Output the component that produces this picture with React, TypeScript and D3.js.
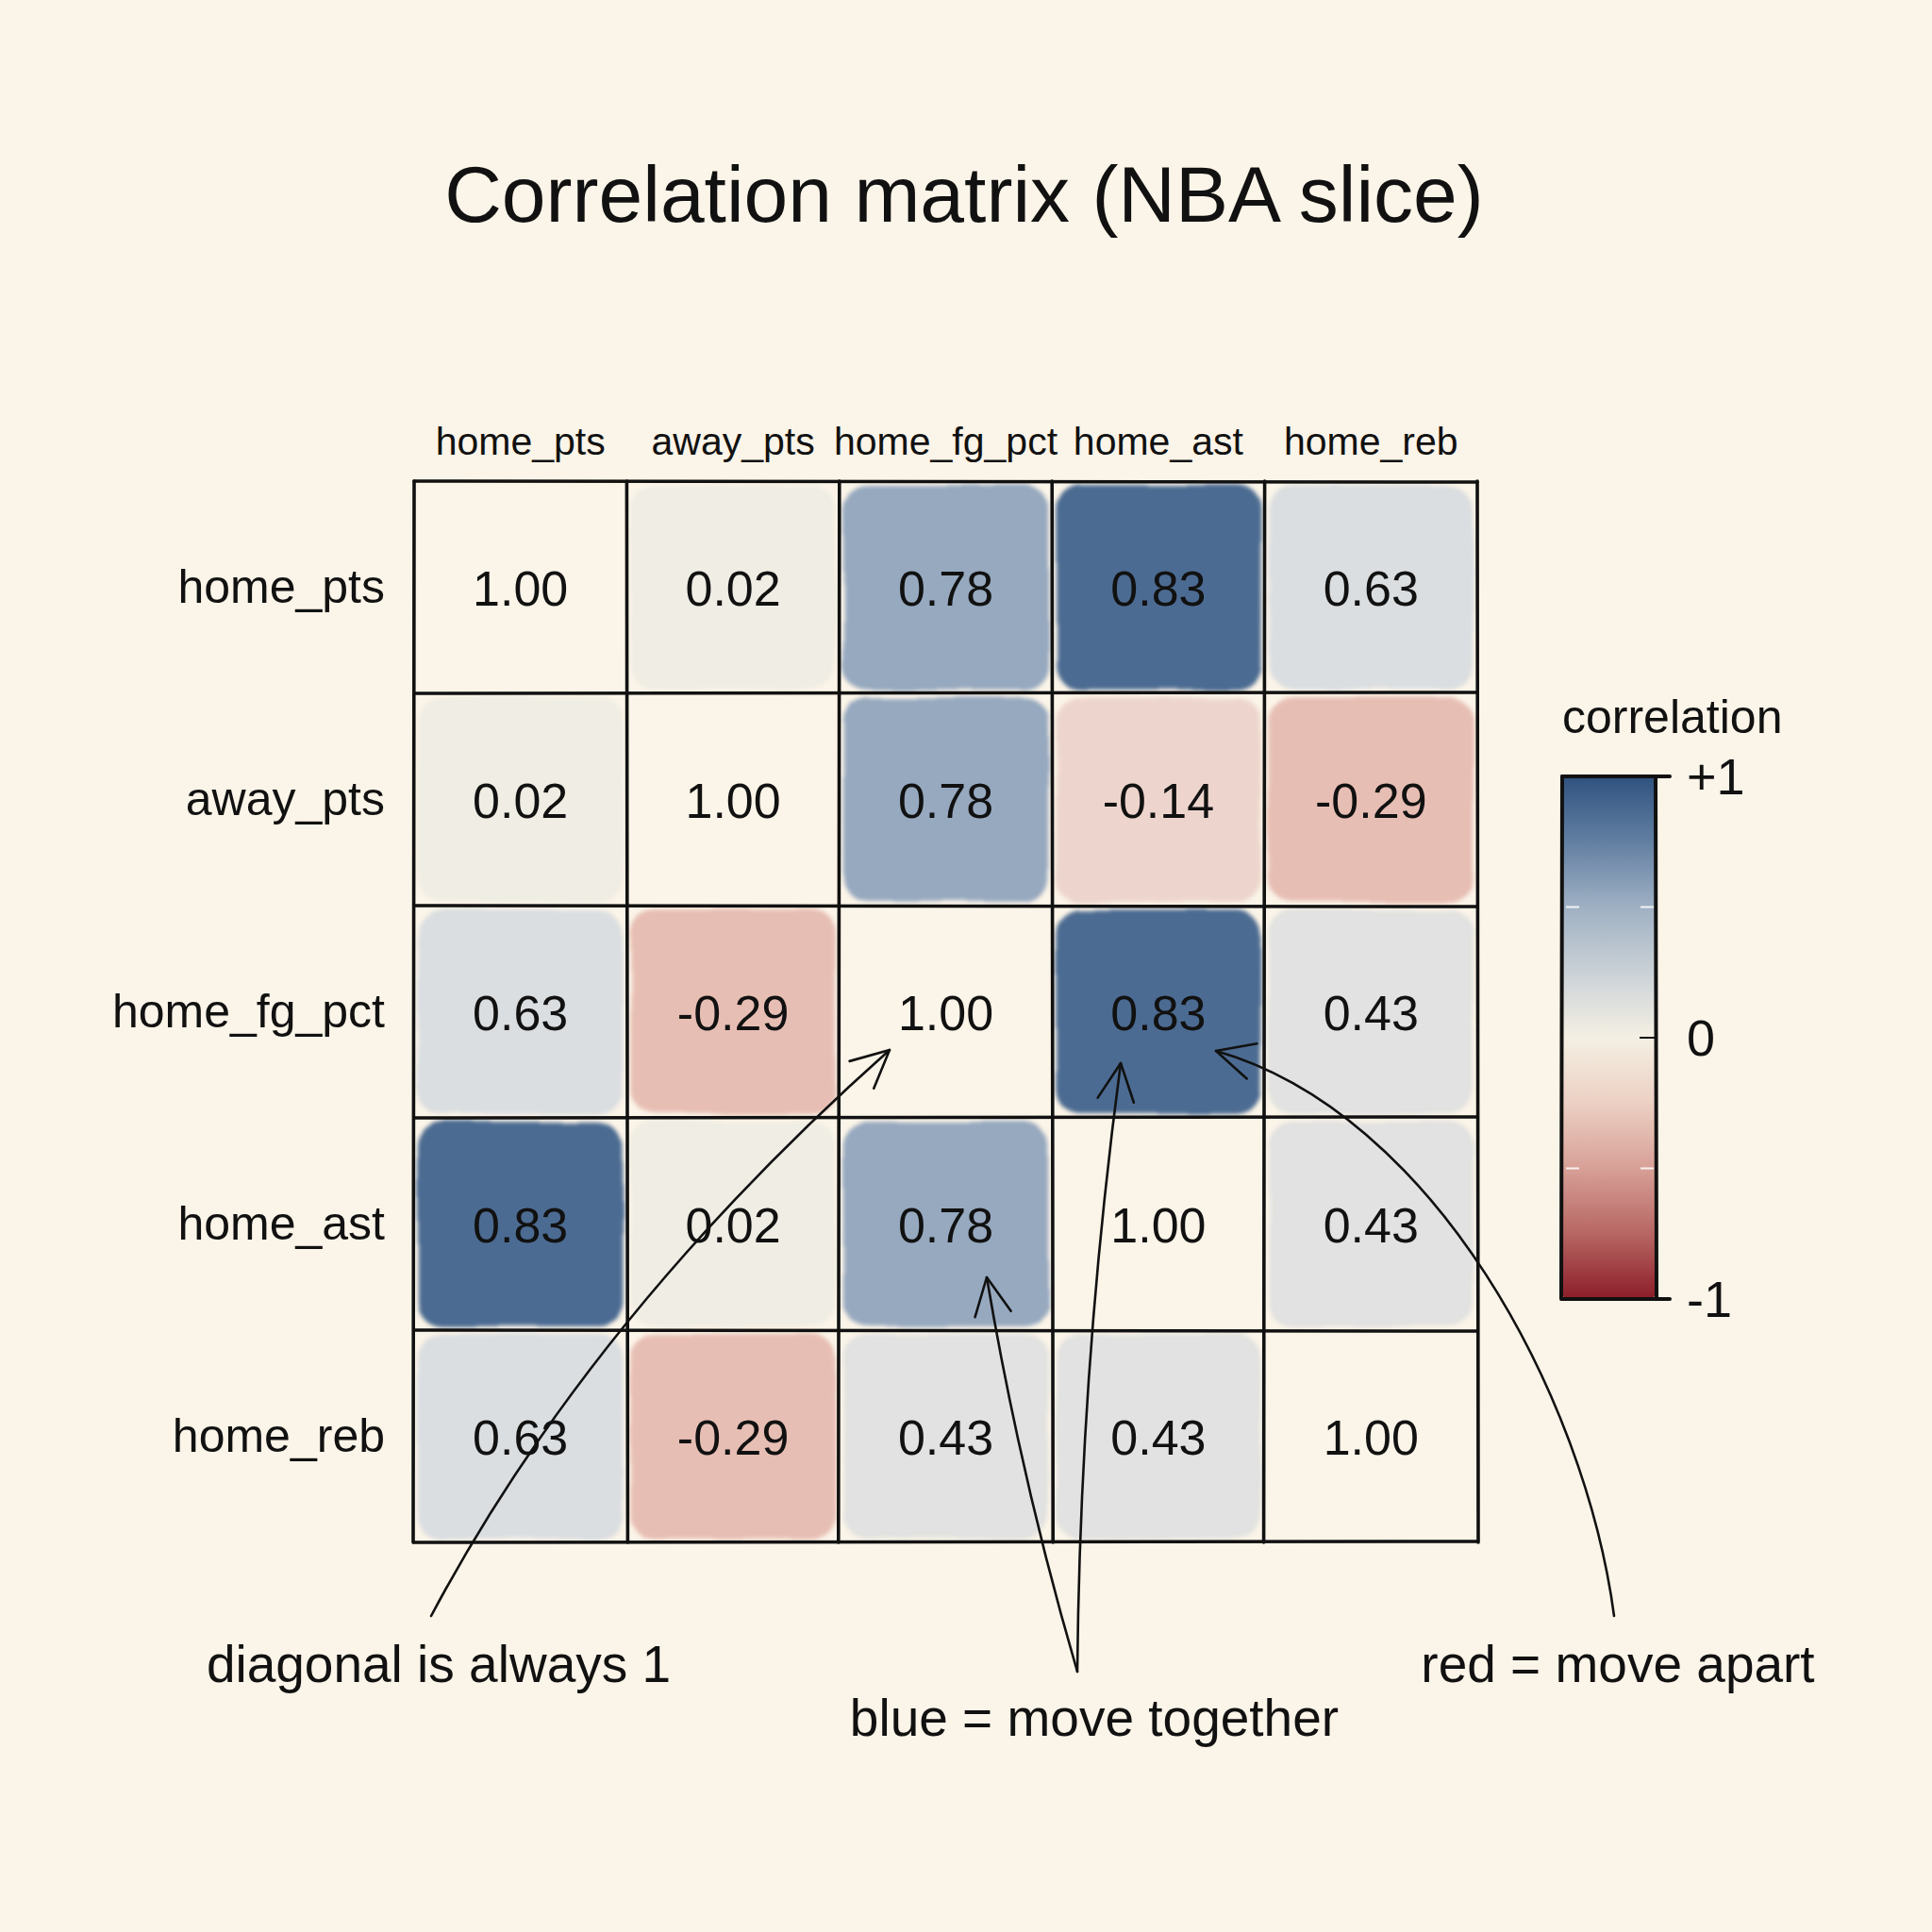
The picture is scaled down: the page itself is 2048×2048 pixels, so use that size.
import React from 'react';
import * as d3 from 'd3';

// Variables and pairwise correlations (row-major, as printed in each cell)
const variables = ['home_pts', 'away_pts', 'home_fg_pct', 'home_ast', 'home_reb'];
const corrRows = [
  [1.0, 0.02, 0.78, 0.83, 0.63],
  [0.02, 1.0, 0.78, -0.14, -0.29],
  [0.63, -0.29, 1.0, 0.83, 0.43],
  [0.83, 0.02, 0.78, 1.0, 0.43],
  [0.63, -0.29, 0.43, 0.43, 1.0],
];

// Wash colour for cells
const cellStops = [-1, -0.5, -0.25, 0, 0.45, 0.65, 0.78, 0.83, 1];
const cellColors = ['#8f1f2b', '#d99c92', '#e9c2b8', '#efece3', '#dfe1e0', '#d8dce0', '#93a6bd', '#46668e', '#2f5080'];

// Colour bar gradient
const barStops = [1, 0.75, 0.5, 0.2, 0, -0.25, -0.5, -0.75, -1];
const barColors = ['#2f527f', '#627fa2', '#9fb0c3', '#d3d8da', '#f4efe3', '#ecd0c3', '#d7a097', '#b76663', '#8c1d29'];
const barLabels = [
  { v: 1, text: '+1' },
  { v: 0, text: '0' },
  { v: -1, text: '-1' },
];
const barMinorTicks = [0.5, -0.5];

const title = 'Correlation matrix (NBA slice)';
const legendTitle = 'correlation';

const FONT = '"Liberation Sans", Arial, Helvetica, sans-serif';
const INK = '#111';

type Pt = [number, number];

// open V arrowhead at `tip`, pointing away from `from`
function arrowHead(tip: Pt, from: Pt, len = 44, spread = 26): string {
  const ang = Math.atan2(tip[1] - from[1], tip[0] - from[0]);
  const a = (spread * Math.PI) / 180;
  const p1: Pt = [tip[0] - len * Math.cos(ang - a), tip[1] - len * Math.sin(ang - a)];
  const p2: Pt = [tip[0] - len * Math.cos(ang + a), tip[1] - len * Math.sin(ang + a)];
  return `M${p1[0]},${p1[1]}L${tip[0]},${tip[1]}L${p2[0]},${p2[1]}`;
}

// plain hyphen for negatives
const fmt = d3.formatLocale({ decimal: '.', thousands: ',', grouping: [3], currency: ['', ''], minus: '-' }).format('.2f');

export default function App() {
  const W = 2048;
  const H = 2048;

  const x = d3.scaleBand<string>().domain(variables).range([439, 1566]);
  const y = d3.scaleBand<string>().domain(variables).range([510, 1635]);
  const bw = x.bandwidth();
  const bh = y.bandwidth();

  const cellColor = d3
    .scaleLinear<string>()
    .domain(cellStops)
    .range(cellColors)
    .interpolate(d3.interpolateRgb)
    .clamp(true);

  const barY = d3.scaleLinear().domain([-1, 1]).range([1377, 823]);
  const barX0 = 1656;
  const barX1 = 1755;

  const cells = corrRows.flatMap((row, i) =>
    row.map((v, j) => ({ row: variables[i], col: variables[j], v, diag: i === j }))
  );

  // annotation curves
  const diagPath = d3.path();
  diagPath.moveTo(457, 1713);
  diagPath.quadraticCurveTo(626, 1395, 943, 1113);

  const bluePathA = d3.path();
  bluePathA.moveTo(1142, 1772);
  bluePathA.quadraticCurveTo(1145, 1450, 1188, 1127);

  const bluePathB = d3.path();
  bluePathB.moveTo(1142, 1772);
  bluePathB.quadraticCurveTo(1082, 1567, 1046, 1354);

  const redPath = d3.path();
  redPath.moveTo(1711, 1713);
  redPath.bezierCurveTo(1680, 1480, 1520, 1180, 1289, 1114);

  const gridXs = [...variables.map((d) => x(d)!), 1566];
  const gridYs = [...variables.map((d) => y(d)!), 1635];

  return (
    <svg
      width={W}
      height={H}
      viewBox={`0 0 ${W} ${H}`}
      style={{ position: 'absolute', left: 0, top: 0, display: 'block' }}
      fontFamily={FONT}
    >
      <defs>
        <filter id="wash" x="-10%" y="-10%" width="120%" height="120%">
          <feTurbulence type="fractalNoise" baseFrequency="0.012" numOctaves={2} seed={5} result="noise" />
          <feDisplacementMap in="SourceGraphic" in2="noise" scale={7} xChannelSelector="R" yChannelSelector="G" result="disp" />
          <feGaussianBlur in="disp" stdDeviation={2} />
        </filter>
        <linearGradient id="barGrad" x1="0" y1={barY(1)} x2="0" y2={barY(-1)} gradientUnits="userSpaceOnUse">
          {barStops.map((s, k) => (
            <stop key={k} offset={(barY(s) - barY(1)) / (barY(-1) - barY(1))} stopColor={barColors[k]} />
          ))}
        </linearGradient>
      </defs>

      <rect width={W} height={H} fill="#fbf4e8" />

      <text x={1022} y={235} textAnchor="middle" fontSize={84} fill={INK}>
        {title}
      </text>

      {/* column headers */}
      {variables.map((d) => (
        <text key={`c-${d}`} x={x(d)! + bw / 2} y={482} textAnchor="middle" fontSize={41} fill={INK}>
          {d}
        </text>
      ))}

      {/* row headers */}
      {variables.map((d) => (
        <text key={`r-${d}`} x={408} y={y(d)! + bh / 2 + 16} textAnchor="end" fontSize={50} fill={INK}>
          {d}
        </text>
      ))}

      {/* washes */}
      <g filter="url(#wash)">
        {cells
          .filter((c) => !c.diag)
          .map((c) => (
            <rect
              key={`w-${c.row}-${c.col}`}
              x={x(c.col)! + 4}
              y={y(c.row)! + 4}
              width={bw - 8}
              height={bh - 8}
              rx={26}
              fill={cellColor(c.v)}
              opacity={0.97}
            />
          ))}
      </g>

      {/* grid */}
      <g stroke={INK} strokeWidth={3.6} strokeLinecap="round">
        {gridXs.map((gx, k) => (
          <line key={`gx-${k}`} x1={gx} x2={gx + (k % 2 ? 1 : -1)} y1={gridYs[0]} y2={gridYs[5]} />
        ))}
        {gridYs.map((gy, k) => (
          <line key={`gy-${k}`} x1={gridXs[0]} x2={gridXs[5]} y1={gy} y2={gy + (k % 2 ? -1 : 1)} />
        ))}
      </g>

      {/* values */}
      {cells.map((c) => (
        <text
          key={`v-${c.row}-${c.col}`}
          x={x(c.col)! + bw / 2}
          y={y(c.row)! + bh / 2 + 19}
          textAnchor="middle"
          fontSize={52}
          fill={INK}
        >
          {fmt(c.v)}
        </text>
      ))}

      {/* colour bar */}
      <text x={barX0} y={777} fontSize={50} fill={INK}>
        {legendTitle}
      </text>
      <rect x={barX0} y={barY(1)} width={barX1 - barX0} height={barY(-1) - barY(1)} rx={6} fill="url(#barGrad)" />
      {barMinorTicks.map((t) => (
        <g key={`mt-${t}`} stroke="#ffffff" strokeWidth={2} opacity={0.85}>
          <line x1={barX0 + 4} x2={barX0 + 18} y1={barY(t)} y2={barY(t)} />
          <line x1={barX1 - 16} x2={barX1 - 2} y1={barY(t)} y2={barY(t)} />
        </g>
      ))}
      <line x1={barX1 - 17} x2={barX1} y1={barY(0)} y2={barY(0)} stroke={INK} strokeWidth={2} />
      <g stroke={INK} strokeWidth={4} fill="none" strokeLinecap="round">
        <line x1={barX0} x2={barX0 - 1} y1={barY(1)} y2={barY(-1)} />
        <line x1={barX1} x2={barX1 + 1} y1={barY(1)} y2={barY(-1)} />
        <line x1={barX0} x2={1770} y1={barY(1)} y2={barY(1)} />
        <line x1={barX0} x2={1770} y1={barY(-1)} y2={barY(-1)} />
      </g>
      {barLabels.map((b) => (
        <text key={`bl-${b.v}`} x={1788} y={barY(b.v) + 19} fontSize={54} fill={INK}>
          {b.text}
        </text>
      ))}

      {/* annotations */}
      <g stroke={INK} strokeWidth={2.6} fill="none" strokeLinecap="round" strokeLinejoin="round">
        <path d={diagPath.toString()} />
        <path d={arrowHead([943, 1113], [626, 1395])} />
        <path d={bluePathA.toString()} />
        <path d={arrowHead([1188, 1127], [1145, 1450])} />
        <path d={bluePathB.toString()} />
        <path d={arrowHead([1046, 1354], [1082, 1567])} />
        <path d={redPath.toString()} />
        <path d={arrowHead([1289, 1114], [1520, 1180])} />
      </g>
      <text x={465} y={1783} textAnchor="middle" fontSize={55} fill={INK}>
        diagonal is always 1
      </text>
      <text x={1160} y={1840} textAnchor="middle" fontSize={55} fill={INK}>
        blue = move together
      </text>
      <text x={1715} y={1783} textAnchor="middle" fontSize={55} fill={INK}>
        red = move apart
      </text>
    </svg>
  );
}
